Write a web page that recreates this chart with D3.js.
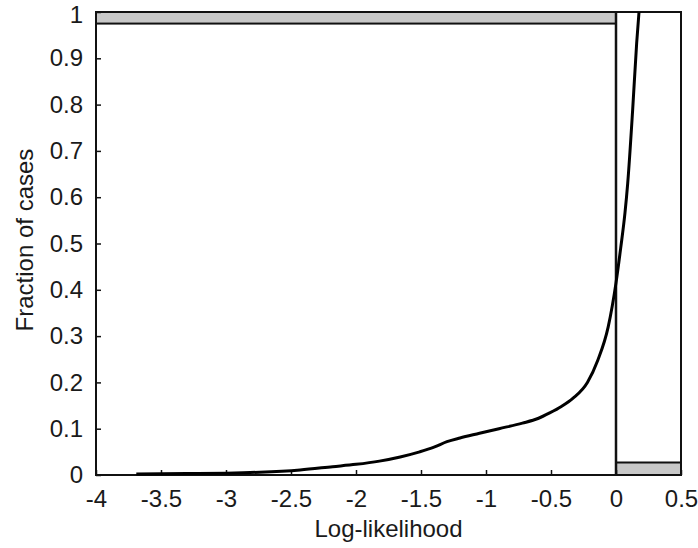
<!DOCTYPE html>
<html>
<head>
<meta charset="utf-8">
<script src="https://cdn.jsdelivr.net/npm/d3@7"></script>
<style>
  body { margin: 0; background: #fff; }
  text { font-family: "Liberation Sans", Arial, sans-serif; fill: #1a1a1a; }
</style>
</head>
<body>
<div id="chart"></div>
<script>
// curve
var logLik = [-3.69, -3.3, -3.0, -2.74, -2.43, -2.18, -2.0, -1.82, -1.66, -1.51, -1.4, -1.3,
  -1.2, -1.05, -0.9, -0.72, -0.6, -0.51, -0.42, -0.33, -0.22, -0.14, -0.06, 0.0,
  0.036, 0.069, 0.09, 0.128, 0.159, 0.177];
var fraction = [0.002, 0.003, 0.004, 0.006, 0.011, 0.018, 0.023, 0.03, 0.039, 0.05, 0.06, 0.072,
  0.08, 0.09, 0.1, 0.112, 0.122, 0.134, 0.148, 0.166, 0.2, 0.248, 0.32, 0.415,
  0.49, 0.566, 0.63, 0.788, 0.933, 1.0];

var xTicks = [-4, -3.5, -3, -2.5, -2, -1.5, -1, -0.5, 0, 0.5];
var yTicks = [0, 0.1, 0.2, 0.3, 0.4, 0.5, 0.6, 0.7, 0.8, 0.9, 1];

// shaded bands: [x0, x1, y0, y1]
var bands = [[-4, 0, 0.975, 1], [0, 0.5, 0, 0.027]];

var svgWidth = 698;
var svgHeight = 548;
var margin = { top: 12, right: 17, bottom: 73, left: 96 };
var width = svgWidth - margin.left - margin.right;
var height = svgHeight - margin.top - margin.bottom;

var svg = d3.select("#chart").append("svg")
  .attr("width", svgWidth)
  .attr("height", svgHeight);

var chart = svg.append("g")
  .attr("transform", `translate(${margin.left}, ${margin.top})`);

var x = d3.scaleLinear().domain([-4, 0.5]).range([0, width]);
var y = d3.scaleLinear().domain([0, 1]).range([height, 0]);

// plain hyphen for negatives, like the original
var fmt = d => String(d);

// bands
chart.selectAll("rect.band")
  .data(bands)
  .enter().append("rect")
  .attr("class", "band")
  .attr("x", d => x(d[0]))
  .attr("width", d => x(d[1]) - x(d[0]))
  .attr("y", d => y(d[3]))
  .attr("height", d => y(d[2]) - y(d[3]))
  .attr("fill", "#c8c8c8")
  .attr("stroke", "#111")
  .attr("stroke-width", 2);

// frame
chart.append("rect")
  .attr("width", width)
  .attr("height", height)
  .attr("fill", "none")
  .attr("stroke", "#111")
  .attr("stroke-width", 2);

// axes, ticks inward
var bottomAxis = d3.axisBottom(x).tickValues(xTicks).tickSizeInner(-5).tickSizeOuter(0).tickFormat(fmt);
var leftAxis = d3.axisLeft(y).tickValues(yTicks).tickSizeInner(-5).tickSizeOuter(0).tickFormat(fmt);

var gx = chart.append("g")
  .attr("transform", `translate(0, ${height})`)
  .call(bottomAxis);
gx.select(".domain").remove();
gx.selectAll("line").attr("stroke", "#111").attr("stroke-width", 1.5);
gx.selectAll("text")
  .attr("y", 32)
  .attr("dy", 0)
  .attr("font-size", 24)
  .style("font-family", "'Liberation Sans', Arial, sans-serif")
  .attr("fill", "#1a1a1a");

var gy = chart.append("g").call(leftAxis);
gy.select(".domain").remove();
gy.selectAll("line").attr("stroke", "#111").attr("stroke-width", 1.5);
gy.selectAll("text")
  .attr("x", -13)
  .attr("font-size", 24)
  .style("font-family", "'Liberation Sans', Arial, sans-serif")
  .attr("fill", "#1a1a1a");
// keep the top label inside the page
gy.selectAll("text").filter(d => d === 1).attr("dy", "0.42em");

// zero line
chart.append("line")
  .attr("x1", x(0)).attr("x2", x(0))
  .attr("y1", 0).attr("y2", height)
  .attr("stroke", "#111")
  .attr("stroke-width", 2.5);

// cumulative curve
var line = d3.line()
  .x((d, i) => x(logLik[i]))
  .y(d => y(d))
  .curve(d3.curveMonotoneX);

chart.append("path")
  .datum(fraction)
  .attr("d", line)
  .attr("fill", "none")
  .attr("stroke", "#000")
  .attr("stroke-width", 3);

// axis titles
svg.append("text")
  .attr("x", margin.left + width / 2)
  .attr("y", 537)
  .attr("text-anchor", "middle")
  .attr("font-size", 24)
  .text("Log-likelihood");

svg.append("text")
  .attr("transform", "translate(33, 240) rotate(-90)")
  .attr("text-anchor", "middle")
  .attr("font-size", 24)
  .text("Fraction of cases");
</script>
</body>
</html>
